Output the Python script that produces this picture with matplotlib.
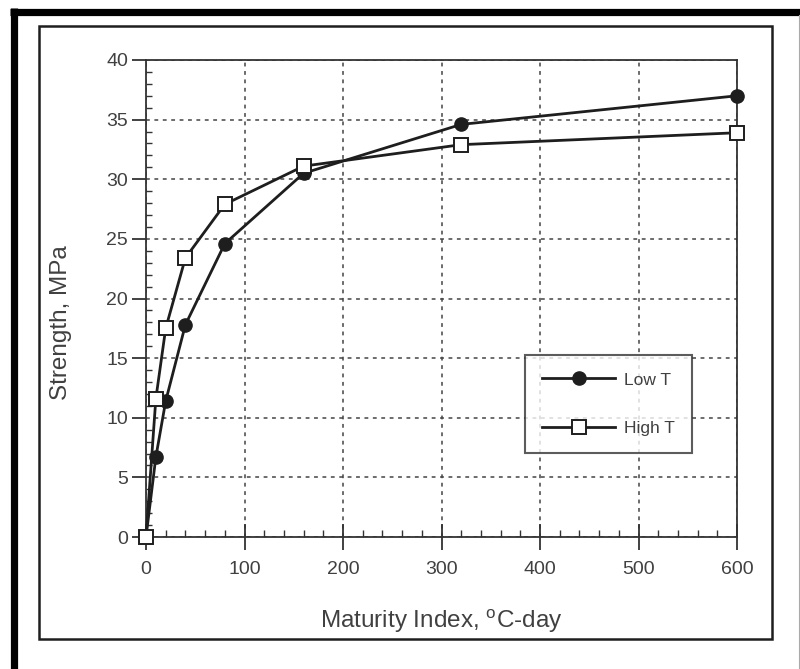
import matplotlib
matplotlib.use("Agg")
import matplotlib.pyplot as plt
from matplotlib.lines import Line2D
from matplotlib.patches import Rectangle
from matplotlib.ticker import MultipleLocator

plt.rcParams['font.family'] = ['Liberation Sans', 'DejaVu Sans']
plt.rcParams['mathtext.default'] = 'regular'

# Values
maturity = [0, 10, 20, 40, 80, 160, 320, 600]
low_t = [0, 6.7, 11.4, 17.8, 24.6, 30.5, 34.6, 37.0]
high_t = [0, 11.6, 17.5, 23.4, 27.9, 31.1, 32.9, 33.9]
x_ticks = [0, 100, 200, 300, 400, 500, 600]
y_ticks = [0, 5, 10, 15, 20, 25, 30, 35, 40]

W, H = 800, 669
fig = plt.figure(figsize=(W / 100, H / 100), dpi=100)
ax = fig.add_axes([146 / W, 1 - 537 / H, 591 / W, 477 / H])

ink = '#1e1e1e'
txt = '#404040'

ax.plot(maturity, low_t, '-', color=ink, lw=2.0, marker='o', ms=9.5,
        mfc=ink, mec=ink, markevery=slice(1, None), clip_on=False,
        zorder=3, label='Low T')
ax.plot(maturity, high_t, '-', color=ink, lw=2.0, marker='s', ms=9.5,
        mfc='white', mec=ink, mew=1.4, clip_on=False, zorder=4,
        label='High T')

ax.set_xlim(0, 600)
ax.set_ylim(0, 40)
ax.set_xticks(x_ticks)
ax.set_yticks(y_ticks)
ax.xaxis.set_minor_locator(MultipleLocator(20))
ax.yaxis.set_minor_locator(MultipleLocator(1))

ax.grid(True, which='major', color='#444444', lw=1.1,
        linestyle=(0, (2.5, 3)), zorder=1)
ax.set_axisbelow(True)

for s in ax.spines.values():
    s.set_color('#333333')
    s.set_linewidth(1.3)

ax.tick_params(axis='x', which='major', direction='inout', length=19,
               width=1.3, color='#333333', pad=8, labelsize=14,
               labelcolor=txt)
ax.tick_params(axis='x', which='minor', direction='in', length=5,
               width=1.0, color='#333333')
ax.tick_params(axis='y', which='major', direction='out', length=10,
               width=1.3, color='#333333', pad=3, labelsize=14,
               labelcolor=txt)
ax.tick_params(axis='y', which='minor', direction='in', length=4.5,
               width=1.0, color='#333333')

ax.set_xlabel('Maturity Index, $^{o}$C-day', fontsize=17.5,
              color=txt, va='center')
ax.xaxis.set_label_coords(0.5, -0.176)
ax.set_ylabel('Strength, MPa', fontsize=17.5, color=txt, va='center')
ax.yaxis.set_label_coords(-0.144, 0.45)

leg = ax.legend(loc='upper left', bbox_to_anchor=((525 - 146) / 591, (537 - 355) / 477),
                fontsize=12.5, frameon=True, fancybox=False, handlelength=4.2,
                labelspacing=1.9, borderpad=1.0, handletextpad=0.5,
                borderaxespad=0)
leg.get_frame().set_edgecolor('#333333')
leg.get_frame().set_linewidth(1.5)
for t in leg.get_texts():
    t.set_color(txt)
leg.set_zorder(5)

# inner frame
fig.patches.append(Rectangle((38.5 / W, 1 - 638.5 / H), (772 - 38.5) / W,
                             (638.5 - 25.5) / H, transform=fig.transFigure,
                             fill=False, edgecolor=ink, lw=1.8))
# outer thick black border (cut off at right/bottom)
fig.lines.append(Line2D([13.5 / W, 13.5 / W], [0, 1 - 8 / H],
                        transform=fig.transFigure, color='black', lw=5.2,
                        solid_capstyle='butt'))
fig.lines.append(Line2D([10 / W, 1], [1 - 11.5 / H, 1 - 11.5 / H],
                        transform=fig.transFigure, color='black', lw=5.2,
                        solid_capstyle='butt'))
fig.lines.append(Line2D([798.5 / W, 798.5 / W], [0, 1 - 15 / H],
                        transform=fig.transFigure, color='#aaaaaa', lw=0.8))

fig.savefig('out.png', dpi=100)
